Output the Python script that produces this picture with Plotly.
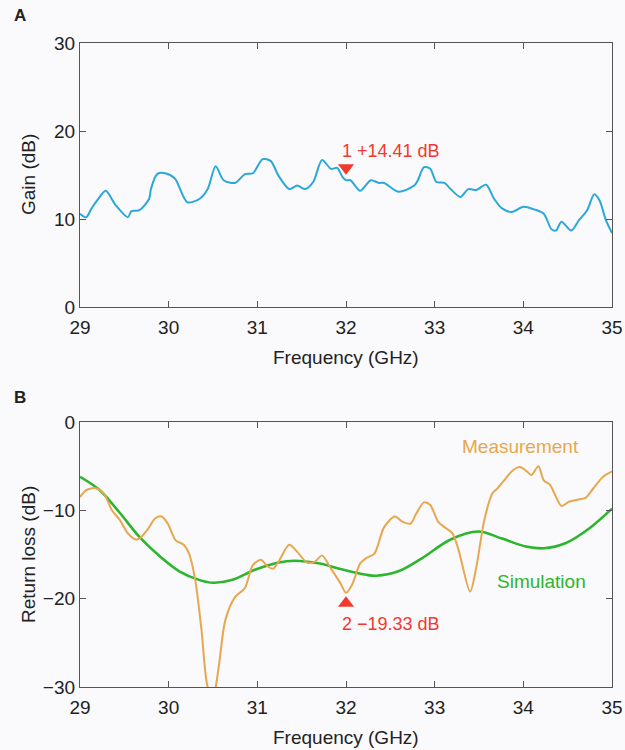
import plotly.graph_objects as go

# Panel A: gain
gain_freq = [29.0, 29.07, 29.13, 29.2, 29.29, 29.4, 29.54, 29.58, 29.67, 29.78, 29.8, 29.87, 29.96, 30.07, 30.21, 30.35, 30.44, 30.53, 30.62, 30.75, 30.86, 30.95, 31.06, 31.15, 31.24, 31.36, 31.45, 31.54, 31.63, 31.73, 31.83, 31.9, 31.96, 32.0, 32.05, 32.16, 32.28, 32.37, 32.43, 32.59, 32.77, 32.81, 32.88, 32.95, 33.02, 33.11, 33.18, 33.29, 33.38, 33.47, 33.58, 33.67, 33.76, 33.87, 34.0, 34.12, 34.23, 34.32, 34.37, 34.43, 34.54, 34.63, 34.72, 34.8, 34.86, 34.93, 35.0]
gain_db = [10.6, 10.2, 11.2, 12.2, 13.2, 11.6, 10.2, 10.9, 11.0, 12.3, 13.4, 15.1, 15.2, 14.6, 11.9, 12.3, 13.4, 16.0, 14.4, 14.1, 15.1, 15.2, 16.8, 16.6, 14.9, 13.4, 13.8, 13.4, 14.2, 16.7, 15.7, 15.8, 14.8, 14.41, 14.4, 13.2, 14.4, 14.1, 14.1, 13.1, 13.8, 14.4, 15.9, 15.7, 14.2, 14.1, 13.4, 12.5, 13.4, 13.3, 13.9, 12.3, 11.2, 10.8, 11.4, 11.1, 10.6, 8.8, 8.7, 9.7, 8.7, 9.9, 11.0, 12.8, 12.1, 9.9, 8.4]

# Panel B: return loss
meas_freq = [29.0, 29.07, 29.18, 29.27, 29.36, 29.45, 29.54, 29.63, 29.67, 29.76, 29.85, 29.92, 29.99, 30.08, 30.17, 30.23, 30.3, 30.37, 30.44, 30.5, 30.53, 30.57, 30.64, 30.75, 30.86, 30.95, 31.04, 31.11, 31.18, 31.24, 31.36, 31.45, 31.56, 31.65, 31.73, 31.83, 31.94, 32.0, 32.07, 32.16, 32.23, 32.32, 32.43, 32.55, 32.64, 32.73, 32.79, 32.88, 32.95, 33.04, 33.11, 33.2, 33.27, 33.4, 33.47, 33.56, 33.65, 33.71, 33.8, 33.89, 33.96, 34.03, 34.09, 34.17, 34.23, 34.3, 34.36, 34.43, 34.52, 34.61, 34.7, 34.79, 34.9, 35.0]
meas_db = [-8.5, -7.7, -7.5, -8.1, -10.0, -11.1, -12.6, -13.3, -13.2, -12.2, -10.9, -10.7, -11.5, -13.4, -13.9, -14.9, -17.9, -23.5, -30.0, -31.0, -30.0, -27.3, -22.4, -19.8, -18.8, -16.2, -15.6, -16.3, -16.6, -15.8, -13.9, -14.7, -15.9, -15.8, -15.1, -16.6, -18.3, -19.33, -18.4, -16.0, -15.4, -14.9, -11.9, -10.7, -11.3, -11.5, -10.4, -9.1, -9.4, -11.3, -11.9, -12.6, -14.5, -19.2, -16.4, -11.1, -8.1, -7.5, -6.4, -5.4, -5.1, -5.5, -6.0, -5.0, -6.6, -7.1, -8.3, -9.5, -9.0, -8.8, -8.6, -7.5, -6.2, -5.6]

sim_freq = [29.0, 29.22, 29.45, 29.67, 29.9, 30.12, 30.35, 30.5, 30.71, 30.98, 31.24, 31.42, 31.69, 31.96, 32.23, 32.34, 32.59, 32.86, 33.18, 33.49, 33.76, 34.03, 34.23, 34.48, 34.75, 35.0]
sim_db = [-6.2, -7.7, -10.3, -13.0, -15.2, -16.9, -17.9, -18.2, -17.9, -16.7, -15.9, -15.7, -16.0, -16.7, -17.3, -17.4, -16.9, -15.4, -13.3, -12.4, -13.2, -14.1, -14.3, -13.7, -12.0, -9.8]

freq_ticks = [29, 30, 31, 32, 33, 34, 35]
gain_ticks = [0, 10, 20, 30]
rl_ticks = [-30, -20, -10, 0]
rl_tick_text = ["\u221230", "\u221220", "\u221210", "0"]

marker1 = (32.0, 14.41)
marker2 = (32.0, -19.33)

BLUE = "#2aa9d9"
ORANGE = "#e6a84e"
GREEN = "#2db52d"
RED = "#f03a2e"
AX = "#555555"
FONT = "Liberation Sans, Arial, Helvetica, sans-serif"

W, H = 625, 750

def dx(px):
    return px / W

def dy(px):
    return 1 - px / H

fig = go.Figure()
fig.add_trace(go.Scatter(x=gain_freq, y=gain_db, mode="lines", line=dict(color=BLUE, width=2, shape="spline", smoothing=0.8), xaxis="x", yaxis="y", showlegend=False))
fig.add_trace(go.Scatter(x=sim_freq, y=sim_db, mode="lines", line=dict(color=GREEN, width=2.6, shape="spline", smoothing=1.0), xaxis="x2", yaxis="y2", showlegend=False))
fig.add_trace(go.Scatter(x=meas_freq, y=meas_db, mode="lines", line=dict(color=ORANGE, width=2, shape="spline", smoothing=0.8), xaxis="x2", yaxis="y2", showlegend=False))

# markers
fig.add_trace(go.Scatter(x=[marker1[0]], y=[marker1[1] + 1.4], mode="markers", marker=dict(symbol="triangle-down", size=14, color=RED), xaxis="x", yaxis="y", showlegend=False, cliponaxis=False))
fig.add_trace(go.Scatter(x=[marker2[0]], y=[marker2[1] - 1.2], mode="markers", marker=dict(symbol="triangle-up", size=14, color=RED), xaxis="x2", yaxis="y2", showlegend=False, cliponaxis=False))

axis_common = dict(showline=True, linecolor=AX, linewidth=1.2, mirror="ticks", ticks="inside", ticklen=6, tickcolor=AX,
                   showgrid=False, zeroline=False, automargin=False, ticklabeloverflow="allow",
                   tickfont=dict(size=19, color="#222", family=FONT))

fig.update_layout(
    width=W, height=H,
    margin=dict(l=0, r=0, t=0, b=0, autoexpand=False),
    paper_bgcolor="#faf9fb", plot_bgcolor="#faf9fb",
    font=dict(family=FONT, color="#222"),
    xaxis=dict(domain=[dx(80), dx(612)], range=[29, 35], tickvals=freq_ticks, anchor="y", ticklabelstandoff=3, **axis_common),
    yaxis=dict(domain=[dy(307), dy(43)], range=[0, 30], tickvals=gain_ticks, anchor="x", **axis_common),
    xaxis2=dict(domain=[dx(80), dx(612)], range=[29, 35], tickvals=freq_ticks, anchor="y2", ticklabelstandoff=3, **axis_common),
    yaxis2=dict(domain=[dy(687), dy(422)], range=[-30, 0], tickvals=rl_ticks, ticktext=rl_tick_text, anchor="x2", **axis_common),
)

centered = dict(xref="paper", yref="paper", showarrow=False, xanchor="center", yanchor="middle")

# axis titles
fig.add_annotation(x=dx(346), y=dy(357), text="Frequency (GHz)", font=dict(size=19, color="#222"), **centered)
fig.add_annotation(x=dx(346), y=dy(737), text="Frequency (GHz)", font=dict(size=19, color="#222"), **centered)
fig.add_annotation(x=dx(28), y=dy(175), text="Gain (dB)", textangle=-90, font=dict(size=19, color="#222"), **centered)
fig.add_annotation(x=dx(28), y=dy(555), text="Return loss (dB)", textangle=-90, font=dict(size=19, color="#222"), **centered)

fig.add_annotation(x=marker1[0], y=marker1[1] + 3.3, xref="x", yref="y", text="1 +14.41 dB", showarrow=False,
                   xanchor="left", yanchor="middle", xshift=-6, font=dict(size=18, color=RED, family=FONT))
fig.add_annotation(x=marker2[0], y=marker2[1] - 3.5, xref="x2", yref="y2", text="2 \u221219.33 dB", showarrow=False,
                   xanchor="left", yanchor="middle", xshift=-6, font=dict(size=18, color=RED, family=FONT))
fig.add_annotation(x=33.97, y=-2.8, xref="x2", yref="y2", text="Measurement", showarrow=False,
                   xanchor="center", yanchor="middle", font=dict(size=19, color=ORANGE, family=FONT))
fig.add_annotation(x=34.2, y=-18.1, xref="x2", yref="y2", text="Simulation", showarrow=False,
                   xanchor="center", yanchor="middle", font=dict(size=19, color=GREEN, family=FONT))
fig.add_annotation(x=dx(20), y=dy(15), text="<b>A</b>", font=dict(size=17, color="#222"), **centered)
fig.add_annotation(x=dx(20), y=dy(398), text="<b>B</b>", font=dict(size=17, color="#222"), **centered)

fig.write_html("out.html", config={"displayModeBar": False},
               post_script="document.body.style.margin='0';document.body.style.overflow='hidden';")
